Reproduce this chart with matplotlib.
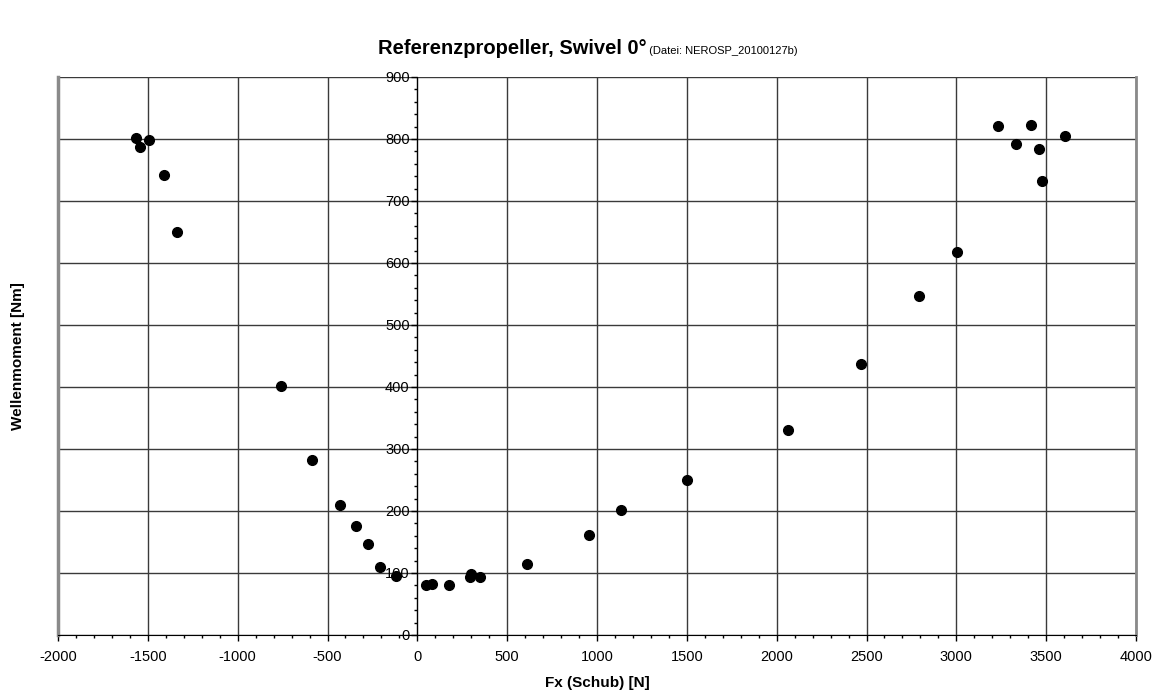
import matplotlib
matplotlib.use("Agg")
import matplotlib.pyplot as plt
from matplotlib.ticker import MultipleLocator

plt.rcParams['font.family'] = ['Liberation Sans', 'DejaVu Sans']
plt.rcParams['axes.unicode_minus'] = False

# Messpunkte: Schub Fx [N] und Wellenmoment [Nm]
fx_schub = [-1568, -1545, -1492, -1410, -1340, -757, -586, -430, -341, -274,
            -208, -119, 50, 82, 176, 293, 299, 349, 612, 957,
            1135, 1499, 2065, 2469, 2792, 3006, 3234, 3330, 3416, 3458,
            3477, 3607]
wellenmoment = [801, 787, 799, 742, 650, 402, 283, 210, 176, 146,
                110, 95, 80, 82, 80, 94, 99, 94, 114, 161,
                201, 250, 331, 437, 547, 617, 821, 792, 823, 784,
                732, 805]

titel = "Referenzpropeller, Swivel 0°"
untertitel = " (Datei: NEROSP_20100127b)"

fig = plt.figure(figsize=(11.6, 6.96), dpi=100)
ax = fig.add_axes([58 / 1160, 1 - 635 / 696, (1136 - 58) / 1160, (635 - 77) / 696])

ax.plot(fx_schub, wellenmoment, 'o', color='black', ms=7, zorder=5, clip_on=False)

ax.set_xlim(-2000, 4000)
ax.set_ylim(0, 900)
ax.xaxis.set_major_locator(MultipleLocator(500))
ax.xaxis.set_minor_locator(MultipleLocator(100))
ax.yaxis.set_major_locator(MultipleLocator(100))
ax.yaxis.set_minor_locator(MultipleLocator(20))
ax.grid(True, which='major', color='#3a3a3a', lw=1)
ax.set_axisbelow(True)

# y-Achse liegt bei Fx = 0
ax.spines['left'].set_position(('data', 0))
ax.spines['left'].set_color('black')
ax.spines['bottom'].set_color('black')
ax.spines['top'].set_visible(False)
ax.spines['right'].set_color('#8a8a8a')
ax.spines['right'].set_linewidth(2)
ax.plot([0, 0], [0, 1], transform=ax.transAxes, color='#8a8a8a', lw=2.5, clip_on=False)

ax.tick_params(which='major', direction='out', length=4.5, width=1, labelsize=10.5)
ax.tick_params(which='minor', direction='out', length=2.5, width=1)
ax.tick_params(axis='y', pad=1)
ax.tick_params(axis='x', pad=6)

fig.text(597 / 1160, 1 - 683 / 696, "Fx (Schub) [N]", ha='center', va='center',
         fontsize=11, fontweight='bold')
fig.text(18 / 1160, 1 - 356 / 696, "Wellenmoment [Nm]", ha='center', va='center',
         rotation=90, fontsize=11, fontweight='bold')

# Titel aus fettem Teil und kleinem Dateinamen zusammensetzen
t1 = fig.text(0, 0, titel, ha='left', va='baseline', fontsize=14.5, fontweight='bold')
t2 = fig.text(0, 0, untertitel, ha='left', va='baseline', fontsize=8)
fig.canvas.draw()
r = fig.canvas.get_renderer()
w1 = t1.get_window_extent(r).width / fig.bbox.width
w2 = t2.get_window_extent(r).width / fig.bbox.width
x0 = 588 / 1160 - (w1 + w2) / 2
y0 = 1 - 54 / 696
t1.set_position((x0, y0))
t2.set_position((x0 + w1, y0))

fig.savefig('out.png', dpi=100)
